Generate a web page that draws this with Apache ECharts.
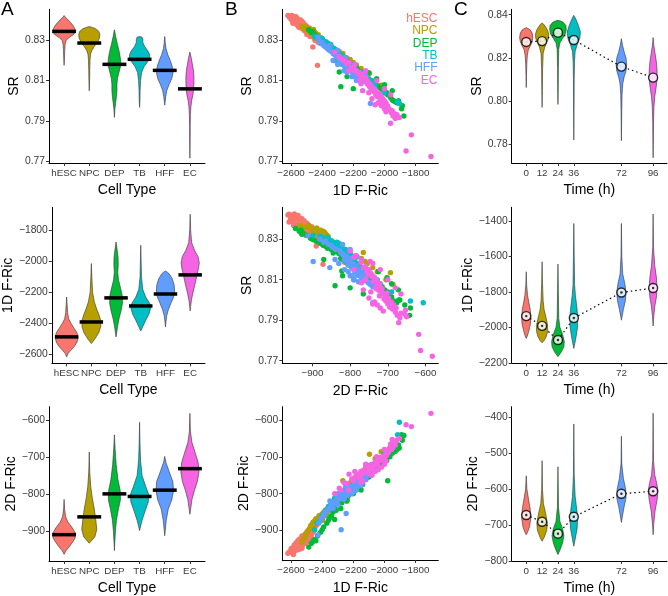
<!DOCTYPE html>
<html><head><meta charset="utf-8">
<script src="https://cdn.jsdelivr.net/npm/echarts@6/dist/echarts.min.js"></script>
<style>html,body{margin:0;padding:0;background:#fff}#c{width:668px;height:596px}</style>
</head><body><div id="c"></div>
<script>
// ---------------- DATA ----------------
const cellTypes = ['hESC', 'NPC', 'DEP', 'TB', 'HFF', 'EC'];
const timePoints = [0, 12, 24, 36, 72, 96];
const groupColors = ['#F8766D', '#B79F00', '#00BA38', '#00BFC4', '#619CFF', '#F564E3'];

// tick values
const srTicksA = [0.77, 0.79, 0.81, 0.83];
const f1TicksA = [-2600, -2400, -2200, -2000, -1800];
const f2TicksA = [-900, -800, -700, -600];
const srTicksC = [0.78, 0.80, 0.82, 0.84];
const f1TicksC = [-2200, -2000, -1800, -1600, -1400];
const f2TicksC = [-800, -700, -600, -500, -400];

// Panel A: medians per cell type
const srMedianByType = [0.8345, 0.8287, 0.8181, 0.8206, 0.8151, 0.8059];
const f1MedianByType = [-2486, -2390, -2235, -2287, -2210, -2087];
const f2MedianByType = [-909, -861, -799, -806, -789, -731];

// Panel A: violin density profiles [value, half-width (category units)]
const srViolinByType = [
  [[0.8424,0],[0.8415,0.05],[0.8405,0.14],[0.8390,0.25],[0.8375,0.35],[0.8360,0.42],[0.8345,0.45],[0.8330,0.38],[0.8315,0.20],[0.8300,0.08],[0.8280,0.04],[0.8250,0.025],[0.8210,0.015],[0.8176,0]],
  [[0.8369,0],[0.8365,0.12],[0.8358,0.26],[0.8345,0.38],[0.8330,0.42],[0.8310,0.40],[0.8290,0.32],[0.8270,0.20],[0.8250,0.10],[0.8230,0.05],[0.8200,0.03],[0.8150,0.02],[0.8100,0.015],[0.8049,0]],
  [[0.8353,0],[0.8320,0.05],[0.8280,0.12],[0.8240,0.20],[0.8200,0.25],[0.8170,0.24],[0.8140,0.18],[0.8110,0.12],[0.8080,0.10],[0.8050,0.10],[0.8020,0.08],[0.7990,0.05],[0.7960,0.02],[0.7917,0]],
  [[0.8320,0],[0.8316,0.10],[0.8305,0.13],[0.8290,0.13],[0.8270,0.20],[0.8250,0.32],[0.8230,0.40],[0.8210,0.40],[0.8190,0.30],[0.8170,0.18],[0.8140,0.08],[0.8100,0.04],[0.8050,0.02],[0.8000,0.015],[0.7967,0]],
  [[0.8320,0],[0.8290,0.02],[0.8260,0.05],[0.8230,0.12],[0.8200,0.22],[0.8170,0.30],[0.8140,0.33],[0.8110,0.28],[0.8080,0.17],[0.8050,0.08],[0.8020,0.04],[0.7978,0]],
  [[0.8242,0],[0.8210,0.06],[0.8180,0.10],[0.8150,0.14],[0.8120,0.16],[0.8090,0.16],[0.8060,0.15],[0.8030,0.12],[0.8000,0.07],[0.7970,0.04],[0.7930,0.02],[0.7870,0.012],[0.7800,0.01],[0.7714,0]]
];
const f1ViolinByType = [
  [[-2229,0],[-2280,0.02],[-2330,0.04],[-2370,0.08],[-2400,0.18],[-2430,0.30],[-2460,0.42],[-2490,0.46],[-2520,0.42],[-2550,0.30],[-2575,0.15],[-2595,0.05],[-2615,0]],
  [[-2014,0],[-2100,0.02],[-2200,0.05],[-2260,0.12],[-2300,0.20],[-2340,0.30],[-2380,0.38],[-2420,0.38],[-2460,0.30],[-2500,0.14],[-2529,0]],
  [[-1875,0],[-1920,0.04],[-1970,0.08],[-2020,0.09],[-2070,0.07],[-2120,0.10],[-2170,0.18],[-2220,0.25],[-2270,0.26],[-2320,0.20],[-2370,0.12],[-2420,0.06],[-2486,0]],
  [[-1896,0],[-2000,0.015],[-2100,0.03],[-2180,0.08],[-2230,0.20],[-2270,0.36],[-2300,0.40],[-2340,0.33],[-2380,0.20],[-2420,0.08],[-2448,0]],
  [[-2062,0],[-2070,0.08],[-2080,0.15],[-2110,0.27],[-2150,0.35],[-2190,0.37],[-2230,0.33],[-2270,0.22],[-2310,0.12],[-2350,0.05],[-2390,0.02],[-2422,0]],
  [[-1697,0],[-1800,0.02],[-1880,0.06],[-1930,0.18],[-1970,0.32],[-2010,0.37],[-2050,0.33],[-2090,0.27],[-2130,0.22],[-2170,0.16],[-2210,0.10],[-2250,0.05],[-2290,0.02],[-2319,0]]
];
const f2ViolinByType = [
  [[-814,0],[-840,0.02],[-860,0.06],[-875,0.15],[-890,0.32],[-905,0.45],[-918,0.44],[-930,0.33],[-942,0.20],[-952,0.08],[-962,0]],
  [[-686,0],[-740,0.02],[-780,0.06],[-810,0.12],[-840,0.20],[-870,0.26],[-895,0.30],[-915,0.22],[-932,0]],
  [[-640,0],[-680,0.03],[-720,0.07],[-760,0.14],[-790,0.23],[-815,0.24],[-840,0.16],[-870,0.08],[-900,0.04],[-930,0.015],[-952,0]],
  [[-606,0],[-660,0.015],[-710,0.04],[-750,0.10],[-780,0.25],[-800,0.36],[-820,0.35],[-845,0.22],[-870,0.10],[-898,0]],
  [[-698,0],[-715,0.05],[-740,0.18],[-765,0.32],[-790,0.35],[-815,0.28],[-840,0.14],[-870,0.06],[-912,0]],
  [[-582,0],[-630,0.02],[-660,0.08],[-690,0.22],[-715,0.33],[-740,0.36],[-765,0.30],[-790,0.18],[-815,0.08],[-840,0.03],[-854,0]]
];

// Panel B: single cells [1D F-Ric, SR, 2D F-Ric]
const hescCells = [
  [-2620,0.8424,-962],[-2600,0.8405,-950],[-2590,0.8398,-958],[-2580,0.8412,-940],[-2575,0.8388,-955],
  [-2570,0.8395,-935],[-2565,0.8380,-948],[-2560,0.8403,-930],[-2555,0.8372,-945],[-2550,0.8392,-925],
  [-2545,0.8375,-940],[-2540,0.8390,-922],[-2535,0.8362,-936],[-2530,0.8380,-915],[-2525,0.8358,-930],
  [-2520,0.8376,-918],[-2515,0.8350,-927],[-2510,0.8368,-910],[-2505,0.8345,-922],[-2500,0.8360,-905],
  [-2495,0.8340,-918],[-2490,0.8355,-900],[-2485,0.8335,-912],[-2480,0.8348,-895],[-2475,0.8328,-908],
  [-2470,0.8342,-888],[-2465,0.8322,-905],[-2460,0.8267,-890],[-2455,0.8335,-882],[-2450,0.8310,-898],
  [-2440,0.8325,-878],[-2430,0.8176,-872],[-2420,0.8298,-868],[-2400,0.8295,-860],[-2380,0.8270,-858],
  [-2320,0.8245,-845],[-2250,0.8200,-820],[-2240,0.8186,-815],[-2548,0.8365,-945],[-2512,0.8378,-925],
  [-2530,0.8395,-948],[-2498,0.8330,-930],[-2470,0.8350,-915],[-2585,0.8420,-965],[-2560,0.8410,-950],
  [-2610,0.8415,-958],[-2595,0.8425,-948],[-2588,0.8385,-962],[-2578,0.8398,-952],[-2568,0.8418,-938],
  [-2558,0.8385,-952],[-2552,0.8400,-932],[-2542,0.8368,-950],[-2538,0.8402,-928],[-2528,0.8370,-942],
  [-2522,0.8388,-922],[-2508,0.8352,-935],[-2502,0.8372,-912],[-2492,0.8345,-925],[-2482,0.8362,-902],
  [-2478,0.8320,-918],[-2468,0.8330,-895],[-2458,0.8345,-905],[-2445,0.8300,-890],[-2435,0.8318,-885],
  [-2425,0.8290,-878],[-2410,0.8305,-872]
];
const npcCells = [
  [-2529,0.8369,-932],[-2510,0.8362,-915],[-2495,0.8355,-905],[-2480,0.8350,-895],[-2470,0.8340,-885],
  [-2460,0.8345,-878],[-2450,0.8330,-875],[-2440,0.8335,-868],[-2430,0.8322,-870],[-2420,0.8318,-860],
  [-2410,0.8300,-868],[-2400,0.8295,-855],[-2395,0.8288,-862],[-2390,0.8290,-850],[-2385,0.8280,-858],
  [-2380,0.8285,-845],[-2370,0.8270,-852],[-2360,0.8275,-838],[-2350,0.8262,-845],[-2340,0.8268,-830],
  [-2330,0.8250,-838],[-2320,0.8255,-820],[-2305,0.8240,-825],[-2290,0.8245,-805],[-2267,0.8235,-765],
  [-2250,0.8215,-790],[-2220,0.8205,-770],[-2180,0.8178,-755],[-2150,0.8160,-740],[-2096,0.8135,-693],
  [-2060,0.8100,-705],[-2021,0.8077,-686],[-2440,0.8310,-880],[-2415,0.8305,-875],[-2455,0.8355,-890],
  [-2520,0.8358,-922],[-2505,0.8368,-910],[-2490,0.8345,-900],[-2475,0.8355,-888],[-2465,0.8332,-892],
  [-2445,0.8340,-872],[-2425,0.8328,-865],[-2405,0.8312,-858],[-2398,0.8305,-872],[-2375,0.8292,-850],
  [-2365,0.8262,-860],[-2345,0.8275,-835],[-2335,0.8258,-842],[-2310,0.8248,-815],[-2280,0.8230,-800],
  [-2240,0.8212,-782],[-2200,0.8190,-760],[-2120,0.8140,-728]
];
const depCells = [
  [-2486,0.8353,-945],[-2470,0.8340,-935],[-2450,0.8330,-925],[-2430,0.8320,-915],[-2410,0.8305,-905],
  [-2390,0.8290,-890],[-2370,0.8280,-880],[-2350,0.8265,-865],[-2330,0.8250,-850],[-2320,0.8240,-835],
  [-2300,0.8230,-830],[-2290,0.8143,-822],[-2280,0.8215,-815],[-2270,0.8200,-818],[-2260,0.8210,-805],
  [-2250,0.8190,-810],[-2240,0.8195,-798],[-2230,0.8180,-802],[-2220,0.8185,-790],[-2210,0.8170,-795],
  [-2200,0.8175,-782],[-2190,0.8160,-788],[-2180,0.8165,-775],[-2170,0.8150,-780],[-2150,0.8140,-768],
  [-2120,0.8120,-760],[-2090,0.8100,-745],[-2060,0.8085,-730],[-2030,0.8065,-715],[-2010,0.8050,-708],
  [-1995,0.8040,-700],[-1979,0.8030,-765],[-1960,0.8015,-690],[-1943,0.8000,-671],[-1920,0.7990,-680],
  [-1905,0.7986,-676],[-1890,0.7960,-640],[-1875,0.7924,-642],[-2240,0.8120,-820],[-2200,0.8060,-800],
  [-2280,0.8070,-840],
  [-2460,0.8345,-930],[-2440,0.8325,-928],[-2400,0.8298,-898],[-2360,0.8270,-872],[-2340,0.8255,-860],
  [-2310,0.8232,-845],[-2275,0.8205,-825],[-2255,0.8200,-815],[-2235,0.8182,-808],[-2215,0.8178,-800],
  [-2195,0.8168,-795],[-2175,0.8155,-788],[-2140,0.8130,-775],[-2100,0.8105,-755],[-2070,0.8090,-740],
  [-2045,0.8075,-725],[-2020,0.8060,-718],[-1985,0.8040,-710],[-1965,0.8025,-700],[-1950,0.8005,-690],
  [-1930,0.7995,-685],[-1910,0.8000,-668],[-1885,0.7975,-655],
  [-2100,0.8140,-725],[-2050,0.8110,-702],[-2000,0.8080,-690],[-1950,0.8050,-672],[-2150,0.8100,-790],
  [-2320,0.8200,-870]
];
const tbCells = [
  [-2448,0.8320,-898],[-2430,0.8315,-880],[-2410,0.8300,-870],[-2400,0.8310,-860],[-2390,0.8295,-855],
  [-2380,0.8290,-848],[-2370,0.8280,-842],[-2360,0.8285,-835],[-2350,0.8270,-838],[-2340,0.8265,-825],
  [-2330,0.8255,-830],[-2320,0.8250,-812],[-2310,0.8240,-820],[-2300,0.8235,-805],[-2290,0.8225,-812],
  [-2285,0.8215,-800],[-2280,0.8220,-808],[-2270,0.8210,-795],[-2260,0.8205,-800],[-2250,0.8195,-790],
  [-2240,0.8190,-795],[-2230,0.8180,-782],[-2215,0.8170,-785],[-2200,0.8165,-775],[-2180,0.8150,-768],
  [-2160,0.8140,-760],[-2130,0.8120,-748],[-2100,0.8110,-735],[-2060,0.8080,-720],[-2000,0.8040,-690],
  [-1915,0.7995,-640],[-1904,0.7986,-606],[-2300,0.8195,-815],[-2270,0.8180,-805],
  [-2420,0.8310,-875],[-2395,0.8302,-862],[-2375,0.8292,-850],[-2355,0.8278,-842],[-2345,0.8280,-830],
  [-2325,0.8262,-822],[-2315,0.8255,-828],[-2295,0.8240,-812],[-2275,0.8228,-800],[-2265,0.8218,-808],
  [-2255,0.8212,-795],[-2245,0.8200,-800],[-2235,0.8195,-788],[-2220,0.8188,-790],[-2205,0.8175,-780],
  [-2190,0.8165,-772],[-2150,0.8145,-758],[-2080,0.8100,-728]
];
const hffCells = [
  [-2422,0.8300,-880],[-2400,0.8290,-865],[-2380,0.8270,-850],[-2360,0.8255,-842],[-2340,0.8245,-828],
  [-2320,0.8230,-822],[-2300,0.8215,-810],[-2290,0.8200,-815],[-2280,0.8205,-802],[-2278,0.8190,-898],
  [-2270,0.8185,-808],[-2260,0.8180,-795],[-2250,0.8170,-800],[-2246,0.8160,-854],[-2240,0.8175,-790],
  [-2230,0.8160,-795],[-2220,0.8165,-785],[-2210,0.8150,-790],[-2200,0.8155,-780],[-2195,0.8140,-786],
  [-2190,0.8145,-775],[-2180,0.8130,-780],[-2170,0.8135,-770],[-2160,0.8120,-775],[-2150,0.8125,-765],
  [-2140,0.8110,-770],[-2130,0.8105,-758],[-2120,0.8095,-762],[-2110,0.8085,-752],[-2100,0.8080,-748],
  [-2090,0.7986,-740],[-2075,0.8070,-735],[-2062,0.8060,-720],[-2427,0.8317,-912],[-2210,0.8120,-800],
  [-2180,0.8100,-790],[-2150,0.8090,-778],[-2240,0.8140,-805],
  [-2410,0.8285,-870],[-2390,0.8275,-858],[-2370,0.8262,-848],[-2350,0.8250,-838],[-2330,0.8235,-825],
  [-2310,0.8222,-818],[-2295,0.8210,-812],[-2275,0.8195,-805],[-2265,0.8188,-800],[-2255,0.8172,-805],
  [-2235,0.8165,-798],[-2225,0.8155,-792],[-2215,0.8158,-782],[-2205,0.8142,-788],[-2185,0.8138,-778],
  [-2175,0.8122,-782],[-2165,0.8128,-768],[-2145,0.8115,-765],[-2125,0.8098,-760],[-2105,0.8088,-750],
  [-2095,0.8075,-745],[-2085,0.8065,-740],
  [-2330,0.8200,-840],[-2300,0.8180,-830],[-2260,0.8150,-815],[-2200,0.8120,-795],[-2350,0.8275,-820],
  [-2300,0.8250,-800],[-2250,0.8215,-782],[-2120,0.8130,-745]
];
const ecCells = [
  [-2319,0.8242,-800],[-2290,0.8220,-785],[-2260,0.8200,-770],[-2227,0.8190,-747],[-2200,0.8160,-765],
  [-2180,0.8150,-750],[-2160,0.8140,-755],[-2150,0.8120,-740],[-2140,0.8130,-745],[-2130,0.8110,-735],
  [-2120,0.8115,-742],[-2110,0.8100,-730],[-2100,0.8090,-738],[-2095,0.8070,-728],[-2090,0.8080,-722],
  [-2085,0.8060,-732],[-2080,0.8065,-720],[-2070,0.8050,-725],[-2060,0.8055,-715],[-2050,0.8040,-718],
  [-2040,0.8030,-710],[-2030,0.8035,-702],[-2020,0.8020,-706],[-2010,0.8010,-698],[-2000,0.8000,-700],
  [-1990,0.7990,-690],[-1980,0.7975,-684],[-1970,0.7960,-678],[-1961,0.7888,-671],[-1950,0.7950,-653],
  [-1935,0.7935,-665],[-1920,0.7930,-655],[-1905,0.7917,-650],[-1861,0.7750,-613],[-1827,0.7830,-618],
  [-1701,0.7722,-582],[-2140,0.8050,-765],[-2080,0.8010,-750],[-2060,0.7980,-740],[-2000,0.7960,-720],
  [-2160,0.8100,-760],[-2040,0.7990,-735],
  [-2280,0.8210,-790],[-2240,0.8185,-772],[-2210,0.8165,-760],[-2190,0.8148,-755],[-2170,0.8135,-748],
  [-2155,0.8125,-752],[-2135,0.8115,-740],[-2115,0.8095,-735],[-2105,0.8082,-725],[-2075,0.8055,-730],
  [-2065,0.8045,-722],[-2055,0.8030,-712],[-2045,0.8020,-722],[-2025,0.8005,-710],[-2015,0.7995,-705],
  [-1995,0.7980,-700],[-1985,0.7965,-695],[-1975,0.7955,-688],[-1955,0.7940,-680],[-1945,0.7925,-675],
  [-1930,0.7912,-668],
  [-2190,0.8180,-740],[-2120,0.8150,-720],[-2050,0.8100,-700],[-2000,0.8060,-680],[-1960,0.8030,-665],
  [-2100,0.8040,-745],[-2020,0.7975,-728],[-1990,0.7945,-712],[-2150,0.8085,-770],[-2230,0.8150,-790]
];
const cellsByType = [hescCells, npcCells, depCells, tbCells, hffCells, ecCells];

// Panel C: medians per time point
const srMedianByTime = [0.8274, 0.8278, 0.8317, 0.8283, 0.8160, 0.8109];
const f1MedianByTime = [-1937, -1992, -2072, -1948, -1804, -1779];
const f2MedianByTime = [-672, -691, -724, -677, -613, -606];

// Panel C: violin profiles [value, half-width (hours)]
const srViolinByTime = [
  [[0.8340,0],[0.8336,1.5],[0.8330,3],[0.8315,4.5],[0.8295,5],[0.8275,4.5],[0.8255,3],[0.8235,1.5],[0.8210,0.8],[0.8170,0.4],[0.8120,0.2],[0.8063,0]],
  [[0.8362,0],[0.8356,1.2],[0.8345,2.5],[0.8330,4],[0.8310,5],[0.8290,4.8],[0.8270,3.5],[0.8250,2],[0.8220,0.8],[0.8150,0.4],[0.8050,0.2],[0.7971,0]],
  [[0.8374,0],[0.8371,2],[0.8365,4],[0.8350,6],[0.8330,6.3],[0.8310,5.5],[0.8290,3.5],[0.8270,1.5],[0.8240,0.6],[0.8150,0.3],[0.8050,0.2],[0.7985,0]],
  [[0.8397,0],[0.8380,1.5],[0.8350,3.5],[0.8320,5],[0.8290,4.5],[0.8260,2.5],[0.8230,1],[0.8180,0.5],[0.8100,0.3],[0.7950,0.15],[0.7820,0]],
  [[0.8289,0],[0.8260,0.8],[0.8230,2],[0.8200,3.5],[0.8170,4],[0.8140,3.5],[0.8110,2],[0.8080,1],[0.8030,0.5],[0.7950,0.25],[0.7817,0]],
  [[0.8294,0],[0.8260,0.5],[0.8220,1.5],[0.8180,2.5],[0.8140,3],[0.8100,3],[0.8060,2.2],[0.8020,1.2],[0.7970,0.6],[0.7900,0.3],[0.7800,0.15],[0.7738,0]]
];
const f1ViolinByTime = [
  [[-1687,0],[-1760,0.3],[-1820,1],[-1860,2],[-1900,3],[-1940,3.5],[-1980,3.2],[-2020,2],[-2050,0.8],[-2063,0]],
  [[-1631,0],[-1750,0.3],[-1850,0.8],[-1900,1.5],[-1940,2.8],[-1980,4],[-2020,4.3],[-2050,3.3],[-2075,1.5],[-2087,0]],
  [[-1644,0],[-1800,0.3],[-1950,0.6],[-2000,1.5],[-2040,3.5],[-2080,4.8],[-2110,4.5],[-2140,2.5],[-2166,0]],
  [[-1415,0],[-1600,0.3],[-1760,0.6],[-1820,1.2],[-1880,2.2],[-1940,3],[-2000,2.8],[-2050,1.8],[-2090,0.8],[-2119,0]],
  [[-1415,0],[-1600,0.3],[-1700,1],[-1750,2.5],[-1800,3.5],[-1850,3],[-1900,1.5],[-1940,0.5],[-1960,0]],
  [[-1362,0],[-1550,0.3],[-1650,1.2],[-1720,2.5],[-1780,3],[-1830,2.5],[-1880,1.3],[-1940,0.5],[-1993,0]]
];
const f2ViolinByTime = [
  [[-563,0],[-600,0.5],[-630,1.8],[-655,3],[-680,3.5],[-705,2.5],[-720,1],[-727,0]],
  [[-521,0],[-600,0.3],[-640,1],[-670,2.8],[-695,4],[-715,3.5],[-735,1.5],[-745,0]],
  [[-538,0],[-650,0.4],[-690,1.5],[-710,3.5],[-730,4.5],[-750,3.5],[-770,1.5],[-782,0]],
  [[-419,0],[-560,0.3],[-620,1],[-650,2],[-680,3],[-710,2.5],[-740,1],[-759,0]],
  [[-453,0],[-530,0.3],[-570,1.5],[-600,3.2],[-625,3.5],[-650,2],[-675,0.8],[-693,0]],
  [[-389,0],[-520,0.3],[-560,1.2],[-585,2.8],[-605,3.7],[-630,3],[-660,1.5],[-700,0.4],[-727,0]]
];

// ---------------- CHART ----------------
const FONT = '"Liberation Sans", Arial, Helvetica, sans-serif';
const colLeft = [49, 282.3, 511.7];
const colWidth = [156, 156, 155.3];
const rowTop = [9.3, 207.3, 406.7];
const rowHeight = [153.7, 156, 155.6];

const minusFmt = v => (v < 0 ? '\u2212' + Math.abs(v) : String(v));
const srFmt = v => v.toFixed(2);

const grids = [], xAxes = [], yAxes = [], series = [];

function baseAxis(min, max, ticks, fmt, name, nameGap, isX) {
  return {
    type: 'value', min, max, scale: true,
    name, nameLocation: 'middle', nameGap,
    nameTextStyle: { fontFamily: FONT, fontSize: 14, color: '#000' },
    axisLine: { show: true, onZero: false, lineStyle: { color: '#000', width: 1 } },
    axisTick: { show: true, length: 3, customValues: ticks, lineStyle: { color: '#333', width: 1 } },
    axisLabel: { show: true, customValues: ticks, formatter: fmt, fontFamily: FONT,
      fontSize: isX ? 9.8 : 10.3, color: '#3a3a3a', margin: isX ? 5 : 4 },
    splitLine: { show: false }
  };
}

function addPanel(row, col, xa, ya) {
  const gi = grids.length;
  grids.push({ left: colLeft[col], top: rowTop[row], width: colWidth[col], height: rowHeight[row], containLabel: false });
  xa.gridIndex = gi; ya.gridIndex = gi;
  xAxes.push(xa); yAxes.push(ya);
  return gi;
}

function violinSeries(gi, centers, profiles, medians) {
  return {
    type: 'custom', xAxisIndex: gi, yAxisIndex: gi, z: 2, silent: true,
    data: centers.map((c, i) => [c, medians[i]]),
    renderItem: (params, api) => {
      const i = params.dataIndex;
      const cx = centers[i];
      const prof = profiles[i];
      const right = prof.map(p => api.coord([cx + p[1], p[0]]));
      const left = prof.slice().reverse().map(p => api.coord([cx - p[1], p[0]]));
      return {
        type: 'polygon',
        shape: { points: right.concat(left) },
        style: { fill: groupColors[i], stroke: '#333', lineWidth: 0.6, lineJoin: 'round' }
      };
    }
  };
}

function medianBarSeries(gi, medians) {
  return {
    type: 'custom', xAxisIndex: gi, yAxisIndex: gi, z: 3, silent: true,
    data: medians.map((m, i) => [i + 1, m]),
    renderItem: (params, api) => {
      const a = api.coord([api.value(0) - 0.475, api.value(1)]);
      const b = api.coord([api.value(0) + 0.475, api.value(1)]);
      return { type: 'rect', shape: { x: a[0], y: a[1] - 1.75, width: b[0] - a[0], height: 3.5 }, style: { fill: '#000' } };
    }
  };
}

const typeIdx = cellTypes.map((c, i) => i + 1);
const typeFmt = v => cellTypes[Math.round(v) - 1] || '';

// Column A
const aY = [
  [0.769, 0.8455, srTicksA, srFmt, 'SR', 28, srViolinByType, srMedianByType],
  [-2656, -1652, f1TicksA, minusFmt, '1D F-Ric', 35, f1ViolinByType, f1MedianByType],
  [-980, -564, f2TicksA, minusFmt, '2D F-Ric', 30, f2ViolinByType, f2MedianByType]
];
aY.forEach((r, row) => {
  const gi = addPanel(row, 0,
    baseAxis(0.4, 6.6, typeIdx, typeFmt, 'Cell Type', 20, true),
    baseAxis(r[0], r[1], r[2], r[3], r[4], r[5], false));
  series.push(violinSeries(gi, typeIdx, r[6], r[7]));
  series.push(medianBarSeries(gi, r[7]));
});

// Column B
const bPanels = [
  { x: [-2656, -1654, f1TicksA, minusFmt, '1D F-Ric'], y: [0.769, 0.8455, srTicksA, srFmt, 'SR', 28], px: 0, py: 1 },
  { x: [-980, -566, f2TicksA, minusFmt, '2D F-Ric'], y: [0.7687, 0.8458, srTicksA, srFmt, 'SR', 28], px: 2, py: 1 },
  { x: [-2656, -1654, f1TicksA, minusFmt, '1D F-Ric'], y: [-980, -564, f2TicksA, minusFmt, '2D F-Ric', 30], px: 0, py: 2 }
];
bPanels.forEach((p, row) => {
  const gi = addPanel(row, 1,
    baseAxis(p.x[0], p.x[1], p.x[2], p.x[3], p.x[4], 21, true),
    baseAxis(p.y[0], p.y[1], p.y[2], p.y[3], p.y[4], p.y[5], false));
  cellsByType.forEach((cells, k) => {
    series.push({
      type: 'scatter', xAxisIndex: gi, yAxisIndex: gi, z: 2 + k * 0.01, silent: true,
      symbol: 'circle', symbolSize: 5.4,
      itemStyle: { color: groupColors[k], opacity: 1 },
      data: cells.map(c => [c[p.px], c[p.py]])
    });
  });
});

// Column C
const cY = [
  [0.7714, 0.8425, srTicksC, srFmt, 'SR', 28, srViolinByTime, srMedianByTime, false],
  [-2203, -1324, f1TicksC, minusFmt, '1D F-Ric', 33, f1ViolinByTime, f1MedianByTime, true],
  [-800, -371, f2TicksC, minusFmt, '2D F-Ric', 32, f2ViolinByTime, f2MedianByTime, true]
];
cY.forEach((r, row) => {
  const gi = addPanel(row, 2,
    baseAxis(-11, 106.5, timePoints, v => String(v), 'Time (h)', 20, true),
    baseAxis(r[0], r[1], r[2], r[3], r[4], r[5], false));
  series.push(violinSeries(gi, timePoints, r[6], r[7]));
  const pts = timePoints.map((t, i) => [t, r[7][i]]);
  series.push({
    type: 'line', xAxisIndex: gi, yAxisIndex: gi, z: 3, silent: true, symbol: 'none',
    lineStyle: { color: '#000', width: 1.2, type: [1.5, 3] }, data: pts
  });
  series.push({
    type: 'scatter', xAxisIndex: gi, yAxisIndex: gi, z: 4, silent: true, symbol: 'circle', symbolSize: 9,
    itemStyle: { color: '#fff', borderColor: '#000', borderWidth: 1.4 }, data: pts
  });
  if (r[8]) {
    series.push({
      type: 'scatter', xAxisIndex: gi, yAxisIndex: gi, z: 5, silent: true, symbol: 'circle', symbolSize: 2.4,
      itemStyle: { color: '#000' }, data: pts
    });
  }
});

// Panel letters and legend text
const graphics = [
  { type: 'text', left: 1, top: 0, style: { text: 'A', fontFamily: FONT, fontSize: 19, fill: '#000' } },
  { type: 'text', left: 225, top: 0, style: { text: 'B', fontFamily: FONT, fontSize: 19, fill: '#000' } },
  { type: 'text', left: 454, top: 0, style: { text: 'C', fontFamily: FONT, fontSize: 19, fill: '#000' } }
];
cellTypes.forEach((c, i) => {
  graphics.push({ type: 'text', x: 437.5, y: 18.5 + i * 12.4, style: { text: c, fontFamily: FONT, fontSize: 12, fill: groupColors[i], textAlign: 'right', textVerticalAlign: 'middle' } });
});

const chart = echarts.init(document.getElementById('c'), null, { renderer: 'canvas' });
chart.setOption({
  animation: false,
  backgroundColor: '#fff',
  grid: grids, xAxis: xAxes, yAxis: yAxes, series, graphic: graphics
});
</script>
</body></html>
